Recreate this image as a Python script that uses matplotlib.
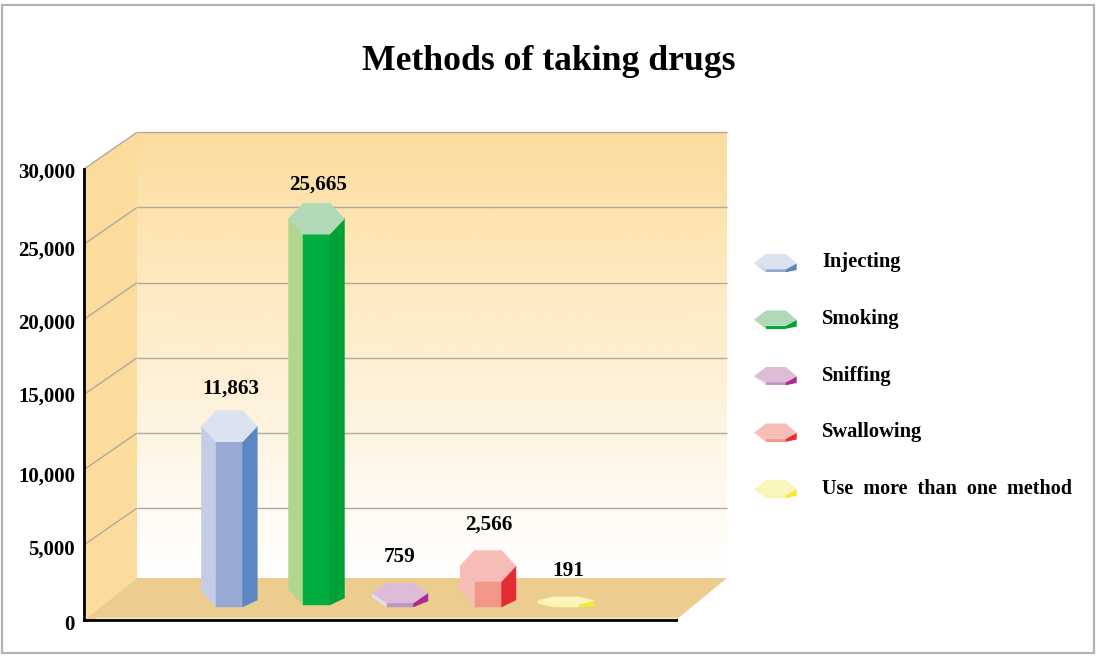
import numpy as np
import matplotlib
matplotlib.use('Agg')
import matplotlib.pyplot as plt
from matplotlib.patches import Polygon, Rectangle
from matplotlib.colors import LinearSegmentedColormap
from matplotlib.transforms import ScaledTranslation

#data
methods = ['Injecting', 'Smoking', 'Sniffing', 'Swallowing', 'Use more than one method']
users = [11863, 25665, 759, 2566, 191]
value_labels = ['11,863', '25,665', '759', '2,566', '191']
y_ticks = [0, 5000, 10000, 15000, 20000, 25000, 30000]
y_tick_labels = ['0', '5,000', '10,000', '15,000', '20,000', '25,000', '30,000']

#styles: top, left, front, right face of every column
face_colors = [
    ('#dde2f1', '#c5cde6', '#98aad3', '#5b87c2'),
    ('#b1d9b7', '#b1d78f', '#00ad3f', '#00a238'),
    ('#dcbcd6', '#e2deee', '#bd94c3', '#ac2a91'),
    ('#f7bdb7', '#f7bdb7', '#f4978b', '#e22d33'),
    ('#faf5bb', '#faf5bb', '#faf5a8', '#f5ec32'),
]
bar_x = [229.3, 316.5, 400, 488, 566]   #x axis runs in pixels
base_px = [13, 15, 13, 13, 13]          #height of the foot above the axis
min_thick = [4, 4, 4, 4, 2.7]
cap_depth = [31, 31, 20, 31, 7.5]
label_gap = [22, 19, 26, 26, 26]
label_dx = [1.5, 1.5, 0, 1, 2]
tick_nudge = [-2, -2, -4, 0, -2, -4, -1]   #tick labels sit a little low in the original
legend_size = [14.8, 14.8, 14.8, 14.8, 14.5]
wall_dx, wall_dy = 53, 36.7
floor_dy = 42

plt.rcParams['font.family'] = ['Liberation Serif', 'DejaVu Serif']
plt.rcParams['font.weight'] = 'bold'

W, H = 1096, 656
fig = plt.figure(figsize=(W / 100, H / 100), dpi=100)
fig.patch.set_facecolor('white')
fig.add_artist(Rectangle((1.5 / W, 3 / H), 1092 / W, 648 / H, transform=fig.transFigure,
                         fill=False, edgecolor='#b3b3b3', linewidth=1.6))

ax = fig.add_axes([84 / W, (H - 620) / H, 592 / W, 451 / H])
ax.patch.set_alpha(0)
y_top = 30000
per_px = y_top / 451


def p(x, y, dx=0, dy=0):
    #data point moved by screen pixels, dy counted upwards
    return (x + dx, y + dy * per_px)


#back wall
wall_cmap = LinearSegmentedColormap.from_list('wall', ['#ffffff', '#fffaf2', '#fef4e2', '#fdefd0',
                                                       '#fdeac0', '#fde3ae', '#fbdc9f'])
ramp = np.linspace(1, 0, 256).reshape(-1, 1)
left_x = 84 + wall_dx
right_x = 727
wall_bottom = p(0, 0, 0, floor_dy)[1]
wall_top = p(0, y_top, 0, wall_dy)[1]
ax.imshow(ramp, extent=(left_x, right_x, wall_bottom, wall_top), cmap=wall_cmap, vmin=0, vmax=1,
          aspect='auto', clip_on=False, zorder=1, interpolation='bilinear')

#side wall and floor
ax.add_patch(Polygon([p(84, 0), p(84, y_top), p(84, y_top, wall_dx, wall_dy), p(84, 0, wall_dx, floor_dy)],
                     facecolor='#fbdc9c', edgecolor='none', clip_on=False, zorder=1.5))
ax.add_patch(Polygon([p(84, 0), p(84, 0, wall_dx, floor_dy), p(right_x, 0, 0, floor_dy), p(676, 0)],
                     facecolor='#eccd8f', edgecolor='none', clip_on=False, zorder=2))

#grid on the walls
for v in y_ticks[1:]:
    x0, y0 = p(84, v, wall_dx, wall_dy)
    ax.plot([84, x0], [v, y0], color='#aeaaa0', lw=1, clip_on=False, zorder=3, solid_capstyle='butt')
    ax.plot([x0, right_x], [y0, y0], color='#aeaaa0', lw=1, clip_on=False, zorder=3, solid_capstyle='butt')
ax.plot([96, 676], [p(0, 0, 0, 1.6)[1]] * 2, color='#f3ecd8', lw=1, clip_on=False, zorder=3)

#columns
for i, v in enumerate(users):
    cx = bar_x[i]
    base = base_px[i] * per_px
    top = max(v, base + min_thick[i] * per_px)
    thick = (top - base) / per_px
    d = cap_depth[i]
    hw_out, hw_in = 28, 13.4
    c_top, c_left, c_front, c_right = face_colors[i]

    left = [p(cx, top, -hw_out, d / 2), p(cx, top, -hw_in), p(cx, base, -hw_in),
            p(cx, top, -hw_out, d / 2 - thick)]
    front = [p(cx, top, -hw_in), p(cx, top, hw_in), p(cx, base, hw_in), p(cx, base, -hw_in)]
    right = [p(cx, top, hw_in), p(cx, top, hw_out, d / 2), p(cx, base, hw_out, 7 if thick > 7 else d / 2 - thick),
             p(cx, base, hw_in)]
    cap = [p(cx, top, -hw_in), p(cx, top, hw_in), p(cx, top, hw_out, d / 2), p(cx, top, hw_in, d),
           p(cx, top, -hw_in, d), p(cx, top, -hw_out, d / 2)]
    for pts, col in [(left, c_left), (front, c_front), (right, c_right), (cap, c_top)]:
        ax.add_patch(Polygon(pts, facecolor=col, edgecolor=col, linewidth=0.3, clip_on=False, zorder=4))

    lx, ly = p(cx, top, label_dx[i], d + label_gap[i])
    ax.text(lx, ly, value_labels[i], ha='center', va='center', fontsize=15.2, fontweight='bold', zorder=5)

ax.set_xlim(84, 676)
ax.set_ylim(0, y_top)
ax.set_yticks(y_ticks)
ax.set_yticklabels(y_tick_labels, fontsize=15, fontweight='bold')
ax.set_xticks([676])
ax.set_xticklabels([''])
ax.tick_params(axis='y', length=0, pad=6.5)
ax.tick_params(axis='x', direction='in', length=7.5, width=2)
for s in ['top', 'right']:
    ax.spines[s].set_visible(False)
for s in ['left', 'bottom']:
    ax.spines[s].set_linewidth(2)
    ax.spines[s].set_zorder(6)
for lab, n in zip(ax.get_yticklabels(), tick_nudge):
    lab.set_transform(lab.get_transform() + ScaledTranslation(0, n / 100, fig.dpi_scale_trans))

fig.text(548.5 / W, (H - 62) / H, 'Methods of taking drugs', ha='center', va='center',
         fontsize=25.7, fontweight='bold')

#legend, drawn by hand on a screen-sized layer
lg = fig.add_axes([0, 0, 1, 1])
lg.set_xlim(0, W)
lg.set_ylim(H, 0)
lg.axis('off')
lg.patch.set_alpha(0)
for i, name in enumerate(methods):
    y = 254 + 56.5 * i
    c_top, c_left, c_front, c_right = face_colors[i]
    lg.add_patch(Polygon([(754, y + 9.3), (766, y + 15.3), (766, y + 18.3)], facecolor=c_left, edgecolor='none'))
    lg.add_patch(Polygon([(766, y + 15.3), (785.7, y + 15.3), (785.7, y + 18.3), (766, y + 18.3)],
                         facecolor=c_front, edgecolor='none'))
    lg.add_patch(Polygon([(785.7, y + 15.3), (796.7, y + 9.3), (796.7, y + 16), (785.7, y + 18.3)],
                         facecolor=c_right, edgecolor='none'))
    lg.add_patch(Polygon([(754, y + 9.3), (766, y), (785.7, y), (796.7, y + 9.3), (785.7, y + 15.3), (766, y + 15.3)],
                         facecolor=c_top, edgecolor='none'))
    lg.text(822, y + 8.5, name.replace(' ', '  '), ha='left', va='center', fontsize=legend_size[i], fontweight='bold')

plt.savefig('out.png', dpi=100)
